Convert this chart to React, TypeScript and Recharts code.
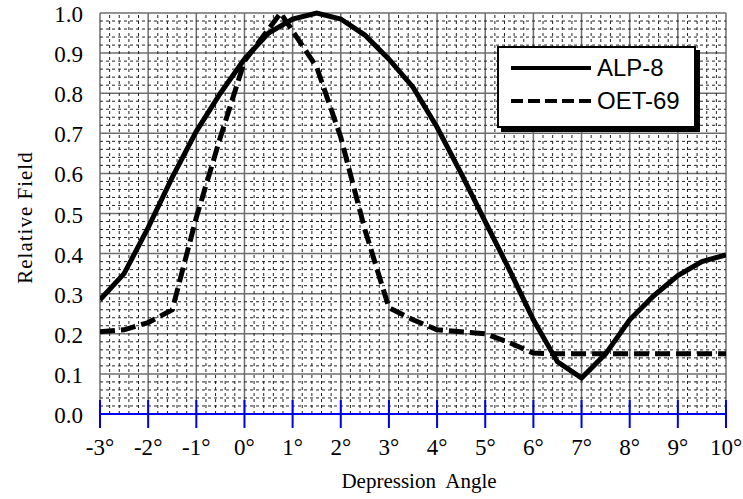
import { LineChart, Line, XAxis, YAxis, CartesianGrid, ReferenceLine, Legend } from "recharts";

// depression angle ticks (degrees) and relative field ticks
const xTicks = [-3, -2, -1, 0, 1, 2, 3, 4, 5, 6, 7, 8, 9, 10];
const yTicks = [0, 0.1, 0.2, 0.3, 0.4, 0.5, 0.6, 0.7, 0.8, 0.9, 1.0];

// ALP-8 measured pattern
const alpAngles = [-3, -2.5, -2, -1.5, -1, -0.5, 0, 0.5, 1, 1.5, 2, 2.5, 3, 3.5, 4, 4.5, 5, 5.5, 6, 6.5, 7, 7.5, 8, 8.5, 9, 9.5, 10];
const alpField = [0.285, 0.35, 0.465, 0.59, 0.705, 0.8, 0.885, 0.95, 0.985, 1.0, 0.985, 0.945, 0.885, 0.815, 0.715, 0.6, 0.48, 0.36, 0.235, 0.13, 0.09, 0.15, 0.235, 0.295, 0.345, 0.38, 0.397];

// OET-69 reference pattern
const oetAngles = [-3, -2.5, -2, -1.5, -1, -0.5, 0, 0.5, 0.75, 1, 1.5, 2, 2.5, 3, 3.5, 4, 4.5, 5, 5.5, 6, 6.5, 7, 7.5, 8, 8.5, 9, 9.5, 10];
const oetField = [0.205, 0.21, 0.228, 0.26, 0.49, 0.69, 0.88, 0.96, 1.0, 0.955, 0.865, 0.69, 0.46, 0.265, 0.235, 0.21, 0.205, 0.2, 0.178, 0.152, 0.15, 0.15, 0.15, 0.15, 0.15, 0.15, 0.15, 0.15];

const alpData = alpAngles.map((angle, i) => ({ angle, field: alpField[i] }));
const oetData = oetAngles.map((angle, i) => ({ angle, field: oetField[i] }));

// fine graph-paper divisions between the major ticks
const minorX = xTicks.slice(0, -1).flatMap((t) => [1, 2, 3, 4].map((k) => +(t + k * 0.2).toFixed(2)));
const minorY = yTicks.slice(0, -1).flatMap((t) => [1, 2, 3, 4].map((k) => +(t + k * 0.02).toFixed(2)));

const serif = "'Liberation Serif', 'Times New Roman', serif";
const sans = "'Liberation Sans', Arial, sans-serif";

const XTick = ({ x, y, payload }: any) => (
  <g>
    <line x1={x} x2={x} y1={y - 14} y2={y + 14} stroke="#0000ee" strokeWidth={2} />
    <text x={x} y={y + 41} textAnchor="middle" style={{ fontFamily: serif, fontSize: 23 }} fill="#000">
      {payload.value}°
    </text>
  </g>
);

const YTick = ({ x, y, payload }: any) => (
  <text x={x} y={y + 9} textAnchor="end" style={{ fontFamily: serif, fontSize: 23 }} fill="#000">
    {Number(payload.value).toFixed(1)}
  </text>
);

const LegendBox = () => (
  <div
    style={{
      width: 195,
      height: 78,
      background: "#fff",
      border: "2px solid #000",
      boxShadow: "4px 4px 0 #000",
      fontFamily: sans,
      fontSize: 24,
      color: "#000",
      position: "relative",
    }}
  >
    {[
      { name: "ALP-8", dash: undefined, top: 6 },
      { name: "OET-69", dash: "12 5", top: 39 },
    ].map((item) => (
      <div key={item.name} style={{ position: "absolute", left: 12, top: item.top, display: "flex", alignItems: "center", height: 28 }}>
        <svg width={82} height={10}>
          <line x1={0} x2={80} y1={5} y2={5} stroke="#000" strokeWidth={4} strokeDasharray={item.dash} />
        </svg>
        <span style={{ marginLeft: 4, lineHeight: "28px" }}>{item.name}</span>
      </div>
    ))}
  </div>
);

export default function App() {
  return (
    <div style={{ position: "absolute", left: 0, top: 0, background: "#fff" }}>
      <LineChart width={743} height={499} margin={{ top: 13, right: 17, bottom: 0, left: 0 }}>
        <CartesianGrid stroke="#6e6e6e" strokeWidth={1.5} />
        {minorX.map((v) => (
          <ReferenceLine key={"mx" + v} x={v} stroke="#222" strokeWidth={1} strokeDasharray="3 3" />
        ))}
        {minorY.map((v) => (
          <ReferenceLine key={"my" + v} y={v} stroke="#222" strokeWidth={1} strokeDasharray="3 3" />
        ))}
        <XAxis
          dataKey="angle"
          type="number"
          domain={[-3, 10]}
          ticks={xTicks}
          allowDataOverflow
          height={85}
          tickSize={0}
          tickMargin={0}
          tickLine={false}
          axisLine={{ stroke: "#0000ee", strokeWidth: 2 }}
          tick={<XTick />}
          label={({ viewBox }: any) => (
            <text
              x={viewBox.x + viewBox.width / 2 + 6}
              y={viewBox.y + 74}
              textAnchor="middle"
              fill="#000"
              style={{ whiteSpace: "pre", fontFamily: serif, fontSize: 21 }}
            >
              {"Depression  Angle"}
            </text>
          )}
        />
        <YAxis
          type="number"
          domain={[0, 1]}
          ticks={yTicks}
          width={100}
          tickSize={0}
          tickMargin={17}
          tickLine={false}
          axisLine={false}
          tick={<YTick />}
          label={({ viewBox }: any) => (
            <text
              x={32}
              y={viewBox.y + viewBox.height / 2 + 4}
              transform={`rotate(-90, 32, ${viewBox.y + viewBox.height / 2 + 4})`}
              textAnchor="middle"
              fill="#000"
              style={{ fontFamily: serif, fontSize: 21, letterSpacing: 1 }}
            >
              Relative Field
            </text>
          )}
        />
        <Line
          data={oetData}
          dataKey="field"
          name="OET-69"
          type="linear"
          stroke="#000"
          strokeWidth={5}
          strokeDasharray="15 6"
          dot={false}
          isAnimationActive={false}
        />
        <Line
          data={alpData}
          dataKey="field"
          name="ALP-8"
          type="linear"
          stroke="#000"
          strokeWidth={5}
          dot={false}
          isAnimationActive={false}
        />
        <Legend
          layout="vertical"
          align="center"
          verticalAlign="middle"
          wrapperStyle={{ left: 497, top: 46, width: 200, height: 84 }}
          content={() => <LegendBox />}
        />
      </LineChart>
    </div>
  );
}
